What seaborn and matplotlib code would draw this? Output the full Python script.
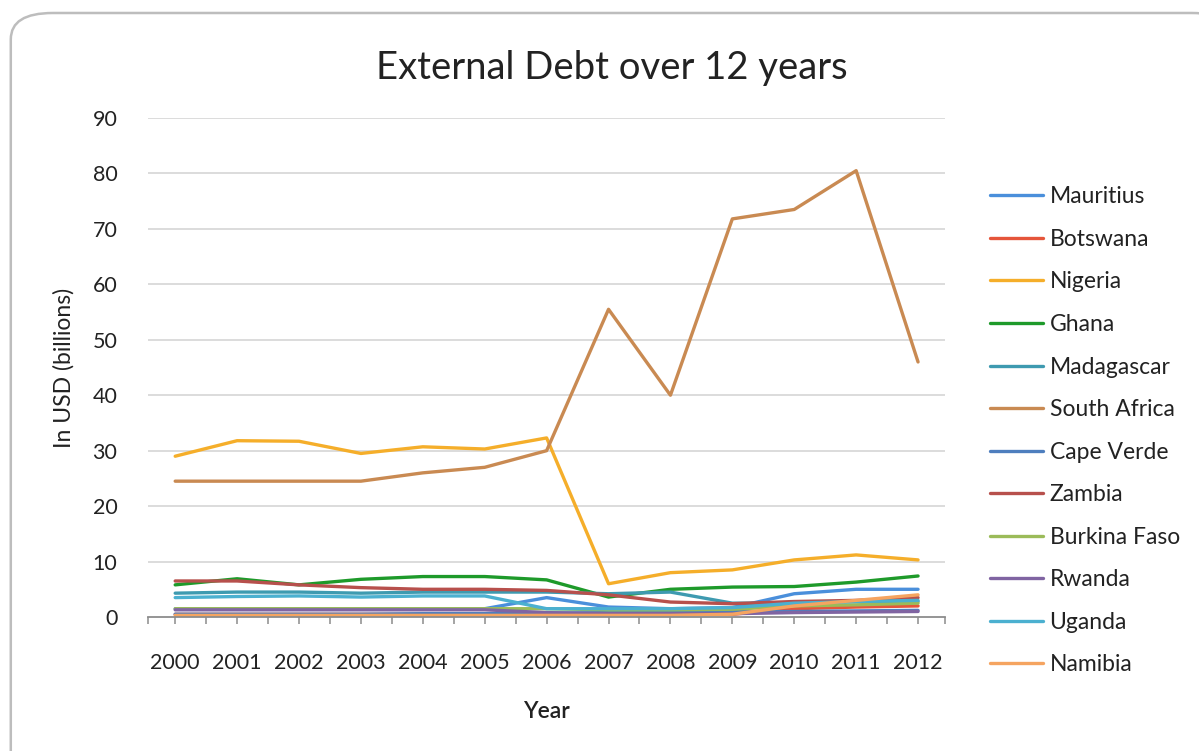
import matplotlib
matplotlib.use("Agg")
import matplotlib.pyplot as plt
from matplotlib.patches import FancyBboxPatch
from matplotlib.ticker import MultipleLocator, FixedLocator
import pandas as pd
import seaborn as sns

years = list(range(2000, 2013))
countries = ["Mauritius", "Botswana", "Nigeria", "Ghana", "Madagascar", "South Africa",
             "Cape Verde", "Zambia", "Burkina Faso", "Rwanda", "Uganda", "Namibia"]

mauritius    = [1.5, 1.5, 1.5, 1.5, 1.5, 1.5, 3.5, 1.8, 1.5, 1.7, 4.2, 5.0, 5.0]
botswana     = [0.5, 0.5, 0.5, 0.5, 0.5, 0.5, 0.5, 0.5, 0.5, 0.5, 1.5, 1.8, 2.0]
nigeria      = [29.0, 31.8, 31.7, 29.5, 30.7, 30.3, 32.3, 6.0, 8.0, 8.5, 10.3, 11.2, 10.3]
ghana        = [5.8, 6.9, 5.8, 6.8, 7.3, 7.3, 6.7, 3.6, 5.0, 5.4, 5.5, 6.3, 7.4]
madagascar   = [4.3, 4.5, 4.5, 4.3, 4.5, 4.5, 4.5, 4.2, 4.5, 2.5, 2.5, 2.8, 2.8]
south_africa = [24.5, 24.5, 24.5, 24.5, 26.0, 27.0, 30.0, 55.5, 40.0, 71.8, 73.5, 80.5, 46.0]
cape_verde   = [0.5, 0.5, 0.5, 0.5, 0.6, 0.6, 0.7, 0.8, 0.9, 1.0, 1.0, 1.1, 1.2]
zambia       = [6.5, 6.5, 5.8, 5.3, 5.0, 5.0, 4.8, 4.0, 2.7, 2.4, 2.8, 3.0, 3.5]
burkina_faso = [1.5, 1.5, 1.5, 1.5, 1.5, 1.5, 1.5, 1.3, 1.3, 1.4, 2.0, 2.2, 2.5]
rwanda       = [1.3, 1.3, 1.3, 1.3, 1.3, 1.3, 0.8, 0.6, 0.6, 0.6, 0.8, 0.9, 1.0]
uganda       = [3.5, 3.7, 3.8, 3.6, 3.8, 3.8, 1.5, 1.5, 1.5, 1.7, 2.5, 2.8, 3.0]
namibia      = [0.3, 0.3, 0.3, 0.3, 0.3, 0.3, 0.3, 0.3, 0.3, 0.5, 2.0, 3.0, 4.0]

series = [mauritius, botswana, nigeria, ghana, madagascar, south_africa,
          cape_verde, zambia, burkina_faso, rwanda, uganda, namibia]

colors = ["#4A8FDB", "#E5553A", "#F5AE2A", "#1E9A2A", "#3E9AB0", "#C98A52",
          "#4E7EBE", "#B7504C", "#9BBB59", "#8064A2", "#4BB0D0", "#F5A460"]
palette = dict(zip(countries, colors))

df = pd.DataFrame(
    [(c, y, v) for c, vals in zip(countries, series) for y, v in zip(years, vals)],
    columns=["Country", "Year", "Debt"],
)

sns.set_theme(style="white")
plt.rcParams["font.family"] = ["Lato", "DejaVu Sans"]

fig = plt.figure(figsize=(11.99, 7.51), dpi=100)

# rounded chart frame, running off the right and bottom edges
frame = FancyBboxPatch((0.009, -0.05), 1.02, 1.0327,
                       boxstyle="round,pad=0,rounding_size=0.035",
                       transform=fig.transFigure, facecolor="white",
                       edgecolor="#BDBDBD", linewidth=1.8, zorder=-10)
fig.patches.append(frame)

ax = fig.add_axes([0.1234, 0.1784, 0.6650, 0.6645])
ax.set_facecolor("none")

sns.lineplot(data=df, x="Year", y="Debt", hue="Country", hue_order=countries,
             palette=palette, linewidth=2.4, ax=ax, legend=False,
             solid_capstyle="round")

ax.set_xlim(1999.56, 2012.44)
ax.set_ylim(0, 90)
ax.yaxis.set_major_locator(MultipleLocator(10))
ax.xaxis.set_major_locator(FixedLocator(years))
ax.xaxis.set_minor_locator(FixedLocator([y + 0.5 for y in years[:-1]] + [1999.56, 2012.44]))
ax.set_xticklabels([str(y) for y in years])

for g in range(10, 100, 10):
    ax.axhline(g, color="#D9D9D9", linewidth=1.3, zorder=0)

for s in ["top", "right", "left"]:
    ax.spines[s].set_visible(False)
ax.spines["bottom"].set_color("#8C8C8C")
ax.spines["bottom"].set_linewidth(1.3)

ax.tick_params(axis="x", which="both", bottom=True, direction="out",
               length=5, width=1.1, color="#8C8C8C", labelsize=15.5,
               labelcolor="#222222", pad=21)
ax.tick_params(axis="y", left=False, labelsize=15.5, labelcolor="#222222", pad=16)

ax.set_xlabel("Year", fontsize=16.5, color="#222222", labelpad=20, fontweight="semibold")
ax.set_ylabel("In USD (billions)", fontsize=16.5, color="#222222", labelpad=13)

fig.text(0.51, 0.91, "External Debt over 12 years", ha="center", va="center",
         fontsize=27.5, color="#222222")

# legend in the right margin
handles = [plt.Line2D([0], [0], color=palette[c], linewidth=2.4) for c in countries]
fig.legend(handles, countries, loc="upper left", bbox_to_anchor=(0.818, 0.764),
           frameon=False, fontsize=16.5, handlelength=2.3, handletextpad=0.3,
           labelspacing=0.94, labelcolor="#222222", borderaxespad=0)

fig.savefig("out.png", dpi=100)
